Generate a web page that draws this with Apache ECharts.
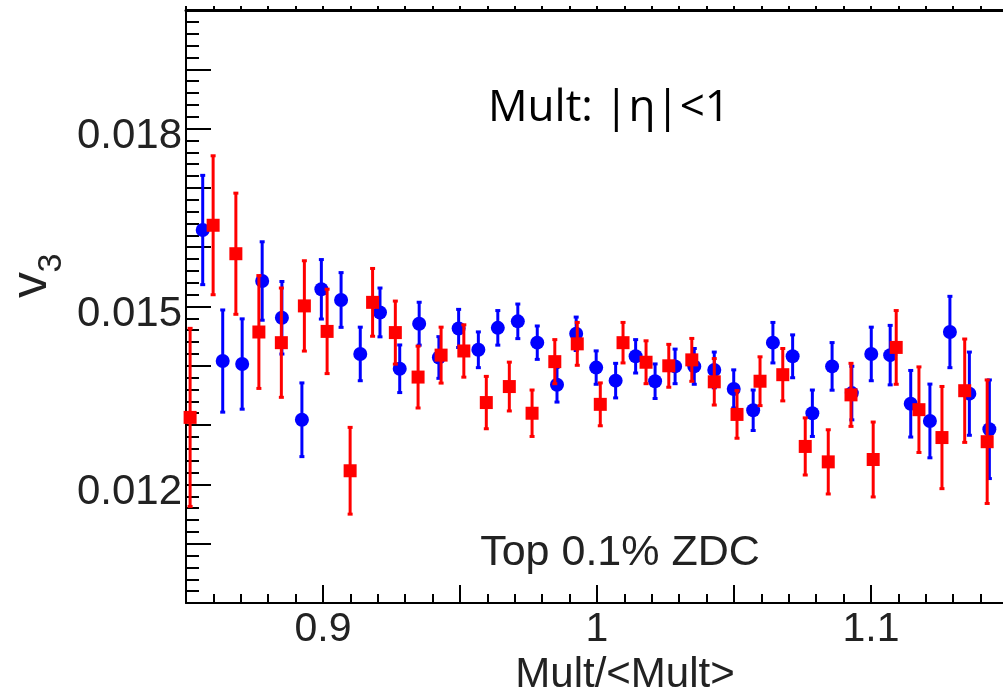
<!DOCTYPE html>
<html>
<head>
<meta charset="utf-8">
<script src="https://cdn.jsdelivr.net/npm/echarts@6/dist/echarts.min.js"></script>
<style>
html,body{margin:0;padding:0;background:#fff;}
#chart{width:1003px;height:687px;}
</style>
</head>
<body>
<div id="chart"></div>
<script>
// ---- data ----
const blueX = [0.8561,0.8634,0.8705,0.8778,0.8850,0.8923,0.8994,0.9066,0.9136,0.9208,0.9280,0.9351,0.9423,0.9495,0.9567,0.9638,0.9711,0.9782,0.9854,0.9924,0.9997,1.0068,1.0141,1.0212,1.0285,1.0355,1.0428,1.0499,1.0570,1.0642,1.0714,1.0786,1.0858,1.0930,1.1001,1.1070,1.1145,1.1215,1.1288,1.1359,1.1432];
const blueY = [0.01629,0.01408,0.01403,0.01543,0.01481,0.01309,0.01529,0.01511,0.01420,0.01490,0.01395,0.01471,0.01414,0.01463,0.01427,0.01464,0.01475,0.01439,0.01368,0.01454,0.01397,0.01375,0.01416,0.01374,0.01399,0.01399,0.01393,0.01361,0.01325,0.01439,0.01416,0.01320,0.01399,0.01354,0.01420,0.01418,0.01336,0.01307,0.01457,0.01353,0.01293];
const blueErr = [0.00093,0.00087,0.00077,0.00067,0.00062,0.00063,0.00051,0.00047,0.00046,0.00042,0.00041,0.00037,0.00036,0.00033,0.00031,0.00030,0.00030,0.00029,0.00030,0.00029,0.00029,0.00030,0.00029,0.00030,0.00030,0.00031,0.00031,0.00033,0.00035,0.00035,0.00037,0.00040,0.00041,0.00046,0.00046,0.00051,0.00057,0.00063,0.00061,0.00071,0.00084];

const redX = [0.8515,0.8599,0.8682,0.8766,0.8848,0.8932,0.9015,0.9099,0.9181,0.9264,0.9347,0.9431,0.9514,0.9596,0.9680,0.9763,0.9846,0.9928,1.0012,1.0095,1.0179,1.0262,1.0346,1.0428,1.0511,1.0595,1.0678,1.0760,1.0844,1.0927,1.1008,1.1092,1.1175,1.1259,1.1342,1.1424];
const redY = [0.01313,0.01637,0.01589,0.01457,0.01439,0.01501,0.01458,0.01223,0.01507,0.01456,0.01381,0.01418,0.01425,0.01338,0.01365,0.01320,0.01407,0.01437,0.01335,0.01439,0.01406,0.01400,0.01410,0.01373,0.01318,0.01374,0.01385,0.01264,0.01238,0.01351,0.01242,0.01431,0.01326,0.01279,0.01358,0.01272];
const redErr = [0.00151,0.00118,0.00103,0.00096,0.00093,0.00077,0.00072,0.00074,0.00058,0.00054,0.00053,0.00048,0.00045,0.00045,0.00042,0.00040,0.00038,0.00037,0.00037,0.00035,0.00037,0.00037,0.00037,0.00040,0.00041,0.00042,0.00045,0.00049,0.00055,0.00054,0.00064,0.00063,0.00073,0.00087,0.00088,0.00105];

const xLabelValues = [0.9, 1, 1.1];
const yLabelValues = [0.012, 0.015, 0.018];
const xTitle = 'Mult/<Mult>';
const yTitleMain = 'v';
const yTitleSub = '3';
const textTop = 'Mult: |\u03b7|<1';
const textBottom = 'Top 0.1% ZDC';

// ---- chart ----
const BLUE = '#0000ff', RED = '#ff0000';
const AXIS_FONT = '"Liberation Sans", Arial, Helvetica, sans-serif';

function errRender(color) {
  return function (params, api) {
    const x = api.value(0), y = api.value(1), e = api.value(2);
    const t = api.coord([x, y + e]);
    const b = api.coord([x, y - e]);
    return {
      type: 'group',
      children: [
        { type: 'rect', shape: { x: t[0] - 1.5, y: t[1], width: 3, height: b[1] - t[1] }, style: { fill: color } },
        { type: 'rect', shape: { x: t[0] - 2.5, y: t[1] - 1, width: 5, height: 3 }, style: { fill: color } },
        { type: 'rect', shape: { x: b[0] - 2.5, y: b[1] - 2, width: 5, height: 3 }, style: { fill: color } }
      ]
    };
  };
}

const near = (v, arr) => arr.find(a => Math.abs(a - v) < 1e-9);

const chart = echarts.init(document.getElementById('chart'), null, { renderer: 'canvas' });
chart.setOption({
  animation: false,
  backgroundColor: '#ffffff',
  grid: { left: 186, top: 10, right: -5, bottom: 84, containLabel: false, outerBoundsMode: 'none' },
  xAxis: [{
    type: 'value', position: 'bottom', min: 0.85, max: 1.15, interval: 0.05,
    axisLine: { show: true, onZero: false, lineStyle: { color: '#000', width: 2 } },
    axisTick: { show: true, inside: true, length: 18, lineStyle: { color: '#000', width: 2 } },
    minorTick: { show: true, splitNumber: 5, length: 9, lineStyle: { color: '#000', width: 2 } },
    splitLine: { show: false },
    axisLabel: {
      show: true, margin: 6, fontSize: 41, color: '#222', fontFamily: AXIS_FONT,
      formatter: v => { const m = near(v, xLabelValues); return m === undefined ? '' : String(m); }
    },
    name: xTitle, nameLocation: 'middle', nameGap: 44,
    nameTextStyle: { fontSize: 42, color: '#222', fontFamily: AXIS_FONT, padding: [0, 0, 0, 56] }
  }, {
    type: 'value', position: 'top', min: 0.85, max: 1.15, interval: 0.05,
    axisLine: { show: true, onZero: false, lineStyle: { color: '#000', width: 3 } },
    axisTick: { show: true, inside: false, length: 4, lineStyle: { color: '#000', width: 2 } },
    minorTick: { show: true, splitNumber: 5, length: 4, lineStyle: { color: '#000', width: 2 } },
    splitLine: { show: false },
    axisLabel: { show: false }
  }],
  yAxis: [{
    type: 'value', min: 0.010, max: 0.020, interval: 0.001,
    axisLine: { show: true, onZero: false, lineStyle: { color: '#000', width: 2 } },
    axisTick: { show: true, inside: true, length: 25, lineStyle: { color: '#000', width: 2 } },
    minorTick: { show: true, splitNumber: 5, length: 13, lineStyle: { color: '#000', width: 2 } },
    splitLine: { show: false },
    axisLabel: {
      show: true, margin: 4, fontSize: 42, color: '#222', fontFamily: AXIS_FONT,
      verticalAlign: 'top', lineHeight: 16,
      formatter: v => { const m = near(v, yLabelValues); return m === undefined ? '' : m.toFixed(3); }
    }
  }],
  graphic: [
    { type: 'text', x: 32, y: 285, rotation: Math.PI / 2,
      style: { text: yTitleMain, fontSize: 52, fontFamily: AXIS_FONT, fill: '#222', align: 'center', verticalAlign: 'middle' } },
    { type: 'text', x: 52, y: 263, rotation: Math.PI / 2,
      style: { text: yTitleSub, fontSize: 34, fontFamily: AXIS_FONT, fill: '#222', align: 'center', verticalAlign: 'middle' } },
    { type: 'text', x: 609, y: 108,
      style: { text: textTop, fontSize: 44, fontFamily: '"Open Sans", "Noto Sans", sans-serif', fill: '#000', align: 'center', verticalAlign: 'middle' } },
    { type: 'text', x: 620, y: 553,
      style: { text: textBottom, fontSize: 43, fontFamily: AXIS_FONT, fill: '#222', align: 'center', verticalAlign: 'middle' } }
  ],
  series: [
    { type: 'custom', name: 'blue-err', renderItem: errRender(BLUE), encode: { x: 0, y: 1 },
      data: blueX.map((x, i) => [x, blueY[i], blueErr[i]]), z: 2 },
    { type: 'scatter', name: 'blue', symbol: 'circle', symbolSize: 14, itemStyle: { color: BLUE, opacity: 1 },
      data: blueX.map((x, i) => [x, blueY[i]]), z: 3 },
    { type: 'custom', name: 'red-err', renderItem: errRender(RED), encode: { x: 0, y: 1 },
      data: redX.map((x, i) => [x, redY[i], redErr[i]]), z: 4 },
    { type: 'scatter', name: 'red', symbol: 'rect', symbolSize: 13, itemStyle: { color: RED, opacity: 1 },
      data: redX.map((x, i) => [x, redY[i]]), z: 5 }
  ]
});
</script>
</body>
</html>
